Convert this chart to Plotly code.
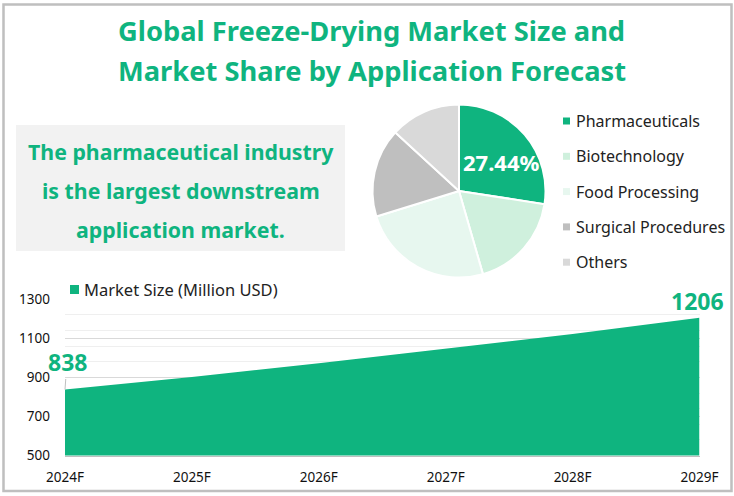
import plotly.graph_objects as go

W, H = 734, 496
years = ["2024F", "2025F", "2026F", "2027F", "2028F", "2029F"]
market_size = [838, 902, 973, 1046, 1122, 1206]
segments = ["Pharmaceuticals", "Biotechnology", "Food Processing", "Surgical Procedures", "Others"]
shares = [27.44, 18.1, 24.7, 16.6, 13.16]
seg_colors = ["#0FB47F", "#CFF0DD", "#E7F7EF", "#BFBFBF", "#D9D9D9"]
GREEN = "#0FB47F"
FONT = "Noto Sans"

def px(x): return x / W
def py(y): return 1 - y / H

fig = go.Figure()
fig.add_trace(go.Scatter(x=years, y=market_size, mode="lines", fill="tozeroy",
                         fillcolor=GREEN, line=dict(color=GREEN, width=0),
                         name="Market Size (Million USD)", showlegend=False, hoverinfo="x+y"))
fig.add_trace(go.Pie(labels=segments, values=shares, sort=False, direction="clockwise",
                     rotation=0, marker=dict(colors=seg_colors, line=dict(color="white", width=2)),
                     textinfo="none",
                     domain=dict(x=[px(372.5), px(545.5)], y=[py(277.5), py(104.5)]),
                     showlegend=False))

shapes = [
    dict(type="rect", xref="paper", yref="paper", x0=px(3.5), x1=px(731.5), y0=py(491), y1=py(4.5),
         line=dict(color="#BFBFBF", width=2.5), fillcolor="rgba(0,0,0,0)", layer="below"),
    dict(type="rect", xref="paper", yref="paper", x0=px(16), x1=px(345), y0=py(251), y1=py(125),
         line=dict(width=0), fillcolor="#F2F2F2", layer="below"),
    dict(type="rect", xref="paper", yref="paper", x0=px(70), x1=px(79), y0=py(294), y1=py(285),
         line=dict(width=0), fillcolor=GREEN),
]
ann = [
    dict(x=px(371.5), y=py(30), text="Global Freeze-Drying Market Size and", font=dict(size=27.3, color=GREEN, weight="bold")),
    dict(x=px(371.5), y=py(70), text="Market Share by Application Forecast", font=dict(size=27.3, color=GREEN, weight="bold")),
    dict(x=px(180.5), y=py(152), text="The pharmaceutical industry", font=dict(size=21.3, color=GREEN, weight="bold")),
    dict(x=px(180.5), y=py(190), text="is the largest downstream", font=dict(size=21.3, color=GREEN, weight="bold")),
    dict(x=px(180.5), y=py(229), text="application market.", font=dict(size=21.3, color=GREEN, weight="bold")),
    dict(x=px(82), y=py(289), text="Market Size (Million USD)", xanchor="left", font=dict(size=16.5, color="#222222")),
    dict(x=px(501.5), y=py(162), text=f"{shares[0]:.2f}%", font=dict(size=22, color="white", weight="bold")),
]
for i, (s, c) in enumerate(zip(segments, seg_colors)):
    yc = 121 + i * 35.3
    shapes.append(dict(type="rect", xref="paper", yref="paper", x0=px(563), x1=px(570),
                       y0=py(yc + 3.5), y1=py(yc - 3.5), line=dict(width=0), fillcolor=c))
    ann.append(dict(x=px(574), y=py(yc), text=s, xanchor="left", font=dict(size=16, color="#222222")))
for a in ann:
    a.update(xref="paper", yref="paper", showarrow=False)
    a.setdefault("xanchor", "center")
    a["yanchor"] = "middle"
    a["font"]["family"] = FONT
ann.append(dict(x=years[0], y=market_size[0], xref="x", yref="y", text=str(market_size[0]),
                showarrow=True, arrowhead=0, arrowcolor="#BFBFBF", arrowwidth=1, ax=2, ay=-28,
                font=dict(family=FONT, size=23, color=GREEN, weight="bold")))
ann.append(dict(x=years[-1], y=market_size[-1], xref="x", yref="y", text=str(market_size[-1]),
                showarrow=False, xshift=-2, yshift=17, font=dict(family=FONT, size=23, color=GREEN, weight="bold")))

fig.update_layout(
    width=W, height=H, autosize=False, margin=dict(l=0, r=0, t=0, b=0, autoexpand=False),
    paper_bgcolor="white", plot_bgcolor="white", shapes=shapes, annotations=ann,
    font=dict(family=FONT, color="#111111"),
    xaxis=dict(domain=[px(65), px(699.5)], range=[0, 5], type="category", showgrid=False, zeroline=False,
               showline=True, linecolor="#BFBFBF", linewidth=1, ticks="", ticklabelstandoff=9, automargin=False,
               tickfont=dict(size=13.5, color="#111111")),
    yaxis=dict(domain=[py(455.5), py(299.3)], range=[500, 1300], tick0=500, dtick=200, showgrid=True,
               gridcolor="#D9D9D9", gridwidth=1, zeroline=False, showline=False, ticks="", automargin=False,
               ticklabelstandoff=14, tickfont=dict(size=13.5, color="#111111"),
               minor=dict(dtick=80, tick0=500, showgrid=True, gridcolor="#EFEFEF", gridwidth=1, ticks="")),
)
fig.write_html("out.html", post_script="document.body.style.margin='0';", config=dict(displayModeBar=False))
